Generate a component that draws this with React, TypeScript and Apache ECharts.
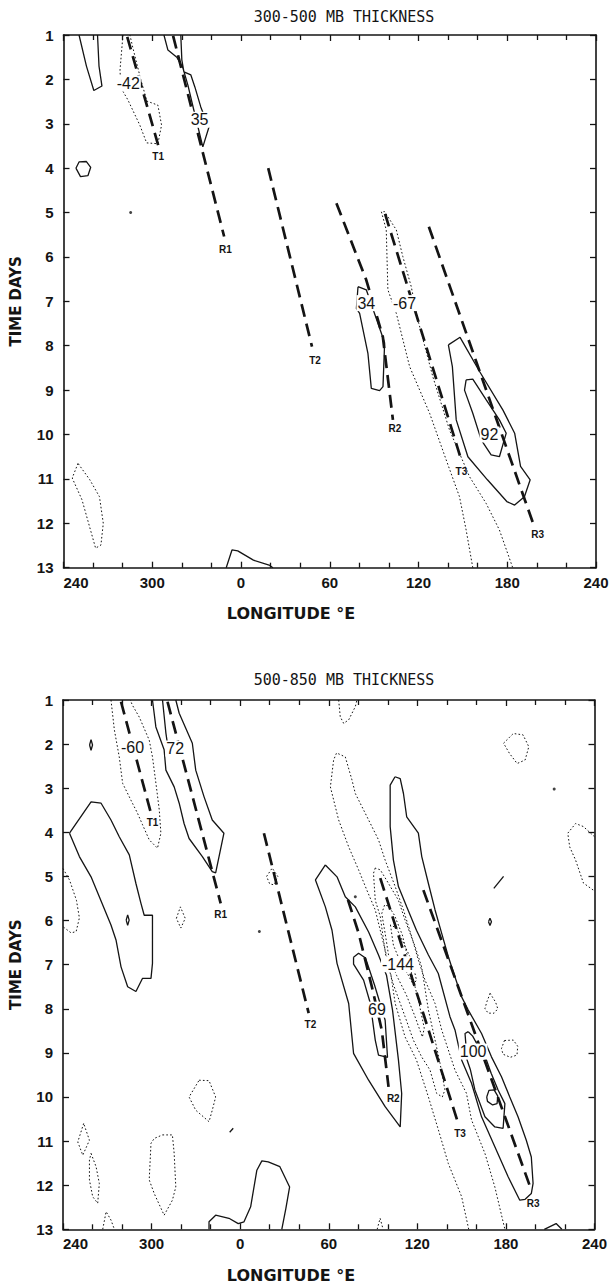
import React, { useEffect, useRef } from 'react';
import * as echarts from 'echarts';

type Pt = [number, number];
type Lbl = [string, number, number];

// Longitude is stored unwrapped: 240..600 (values > 360 are 0..240 E)
const LON_LABELS = ['240', '300', '0', '60', '120', '180', '240'];
const DAY_MIN = 1;
const DAY_MAX = 13;

// ---------------- 300-500 MB panel ----------------
const A_POS_1: Pt[] = [[250.5, 1], [255.5, 1.7], [260.5, 2.25], [266, 2.15], [264, 1.7], [263, 1]];
const A_POS_2: Pt[] = [[307.9, 1], [310.6, 1.34], [316.6, 1.5], [320.7, 1.74], [324.1, 2.13], [328.1, 2.69], [334.2, 3.52], [338.2, 3.09], [332.8, 2.62], [328.8, 2.17], [326.1, 1.9], [321.4, 1.83], [320, 1.56], [319.3, 1]];
const A_POS_3: Pt[] = [[248.4, 4.0], [250.5, 3.86], [255.5, 3.85], [258.4, 3.98], [256.5, 4.17], [251.5, 4.19], [248.4, 4.0]];
const A_POS_4: Pt[] = [[439.1, 6.67], [444.7, 6.74], [454.9, 7.72], [457.1, 7.94], [456, 8.92], [453.7, 9.01], [448.1, 8.96], [445.8, 8.17], [440.2, 7.27], [438, 7.16], [439.1, 6.67]];
const A_POS_5: Pt[] = [[500.2, 7.98], [508.1, 7.81], [521.3, 8.58], [537.1, 9.45], [545, 9.97], [549, 10.72], [555.5, 11.02], [551.6, 11.4], [545, 11.59], [539.7, 11.51], [526.6, 11.02], [513.4, 10.5], [505.5, 9.67], [502.9, 8.47], [500.2, 7.98]];
const A_POS_6: Pt[] = [[512.2, 8.77], [516.7, 8.75], [525.8, 9.22], [534.7, 9.67], [539.3, 9.97], [534.7, 10.5], [529.1, 10.46], [522.4, 10.12], [516.7, 9.52], [511.1, 9.0], [512.2, 8.77]];
const A_POS_7: Pt[] = [[350, 13], [353.9, 12.6], [357.8, 12.62], [368.4, 12.83], [379, 12.94], [381.6, 13]];

const A_NEG_1: Pt[] = [[280.2, 1], [278.2, 1.79], [278.8, 2.19], [283.5, 2.46], [291.6, 3.03], [296.2, 3.43], [303.8, 3.45], [306.3, 3.03], [303.8, 2.58], [296.4, 2.49], [292.3, 2.01], [286.9, 1.29], [284.9, 1]];
const A_NEG_2: Pt[] = [[516.7, 13], [512.2, 12.15], [507.7, 11.4], [498.7, 10.57], [487.5, 9.52], [474, 8.47], [465, 7.27], [459.3, 6.74], [458.2, 5.39], [454.9, 4.98], [457.1, 4.98], [465, 5.39], [469.4, 5.99], [475.1, 6.67], [479.6, 7.42], [489.7, 8.7], [501, 9.9], [514.5, 10.95], [525.7, 11.55], [534.7, 12.15], [543.7, 13]];
const A_NEG_3: Pt[] = [[249.8, 10.65], [245.9, 10.98], [252.5, 11.47], [261.7, 12.56], [265.3, 12.49], [266.9, 12.0], [264.3, 11.4], [257.8, 11.02], [249.8, 10.65]];

const A_T1: Pt[] = [[283.1, 1.04], [304, 3.48]];
const A_R1: Pt[] = [[314.1, 1.02], [348.6, 5.54]];
const A_T2: Pt[] = [[378.4, 4.0], [408, 8.02]];
const A_R2: Pt[] = [[424.5, 4.79], [444.7, 6.52], [455.9, 7.8], [462.7, 9.67]];
const A_T3: Pt[] = [[457.4, 5.03], [508.9, 10.57]];
const A_R3: Pt[] = [[487, 5.32], [558.2, 12.07]];

const A_VALUE_LABELS: Lbl[] = [['-42', 283.8, 2.09], ['35', 332, 2.91], ['34', 444.7, 7.04], ['-67', 470.6, 7.04], ['92', 528, 10.0]];
const A_TRACK_LABELS: Lbl[] = [['T1', 304, 3.74], ['R1', 349.4, 5.84], ['T2', 410, 8.33], ['R2', 464, 9.86], ['T3', 509, 10.83], ['R3', 560.5, 12.26]];
const A_DOTS: Pt[] = [[285.4, 5.0]];

// ---------------- 500-850 MB panel ----------------
const B_POS_1: Pt[] = [[300.6, 1], [302.9, 1.61], [308.5, 2.13], [309.7, 2.59], [315.3, 2.97], [318.7, 3.34], [322, 3.8], [325.4, 4.14], [334.4, 4.55], [341.1, 4.89], [343.4, 4.92], [349, 4.02], [341.1, 3.72], [335.5, 3.19], [329.9, 2.59], [327.6, 1.98], [318.7, 1.3], [316.4, 1]];
const B_POS_2: Pt[] = [[307.4, 1], [309.7, 1.75], [311, 2.05]];
const B_POS_3: Pt[] = [[244.4, 4.02], [259, 3.31], [265.8, 3.34], [272.5, 3.72], [278.1, 4.1], [284.9, 4.51], [289.4, 5.16], [292.8, 5.61], [295, 5.88], [300.6, 5.88], [300.6, 6.97], [299.6, 7.31], [293.9, 7.31], [289.4, 7.61], [283.8, 7.5], [279.3, 7.05], [275.9, 6.44], [272.5, 6.1], [264.6, 5.46], [259, 5.01], [251.1, 4.55], [244.4, 4.02]];
const B_POS_4: Pt[] = [[417.7, 4.74], [411, 5.08], [417.7, 5.69], [422.2, 6.22], [425.6, 6.97], [433.5, 7.88], [436.8, 9.01], [447, 9.62], [458.2, 10.22], [468.4, 10.68], [469.4, 9.92], [467.2, 9.16], [463.2, 8.03], [459.1, 7.24], [453.7, 6.78], [447, 6.26], [438, 5.69], [431.2, 5.46], [425.6, 5.01], [417.7, 4.74]];
const B_POS_5: Pt[] = [[436.8, 6.83], [440.2, 6.74], [444.9, 6.85], [451, 7.46], [458.2, 8.26], [459.8, 9.1], [453.7, 9.05], [451.5, 8.71], [448.1, 7.87], [443.6, 7.35], [436.8, 6.99], [436.8, 6.83]];
const B_POS_6: Pt[] = [[464.9, 2.74], [461.6, 2.93], [461.6, 3.87], [463.8, 4.63], [467.2, 5.23], [472.8, 5.69], [479.4, 6.22], [487.5, 6.78], [494.2, 7.2], [502.1, 8.18], [505.5, 8.48], [510, 9.16], [516.7, 9.69], [523.5, 10.45], [532.5, 11.13], [541.5, 11.81], [549.4, 12.34], [553, 12.32], [557.2, 12.19], [558.4, 11.96], [557.2, 11.36], [553.8, 10.98], [548.2, 10.45], [542.6, 10.0], [537, 9.54], [530.2, 9.09], [523.5, 8.56], [514.5, 8.03], [510, 7.73], [505.5, 7.28], [501, 6.82], [496.5, 6.29], [492, 5.76], [487.5, 5.16], [483, 4.55], [480.7, 4.02], [472.8, 3.65], [470.6, 3.12], [468.4, 2.78], [464.9, 2.74]];
const B_POS_7: Pt[] = [[514.5, 8.52], [517.5, 8.62], [522, 8.9], [526.8, 9.16], [530, 9.46], [534.7, 9.84], [539.3, 10.15], [538.1, 10.71], [532.5, 10.68], [525.8, 10.45], [519, 9.84], [516, 9.39], [513.7, 9.16], [512.3, 8.56], [514.5, 8.52]];
const B_POS_8: Pt[] = [[527, 10.0], [528.5, 9.85], [532, 9.84], [534.5, 9.98], [534, 10.15], [531, 10.18], [527.5, 10.1], [527, 10.0]];
const B_POS_9: Pt[] = [[338.9, 13], [338.9, 12.83], [343.4, 12.68], [352.4, 12.75], [358.7, 12.87], [362.6, 12.83], [367.1, 12.49], [371.3, 11.66], [374.7, 11.45], [379, 11.47], [386.9, 11.58], [393.5, 12.04], [391, 12.52], [388.2, 13]];
const B_POS_10: Pt[] = [[566, 13], [574, 12.87], [577.9, 13]];
const B_POS_11: Pt[] = [[258, 2.02], [259, 1.9], [260, 2.02], [259, 2.14], [258, 2.02]];
const B_POS_12: Pt[] = [[282.8, 5.99], [283.8, 5.87], [284.8, 5.99], [283.8, 6.11], [282.8, 5.99]];
const B_POS_13: Pt[] = [[531.8, 5.27], [538.4, 5.0]];
const B_POS_14: Pt[] = [[528.2, 6.03], [529.2, 5.95], [530.2, 6.03], [529.2, 6.11], [528.2, 6.03]];
const B_POS_15: Pt[] = [[352.9, 10.8], [355.3, 10.71]];

const B_NEG_1: Pt[] = [[272.5, 1], [274.8, 1.68], [278.1, 2.29], [280.4, 2.89], [286, 3.27], [290.5, 3.57], [293.9, 3.83], [298.4, 4.17], [304, 4.36], [306.3, 4.02], [305.2, 3.49], [303.1, 2.93], [300.6, 2.29], [298.4, 1.91], [291.7, 1.39], [286.9, 1.11], [285.6, 1]];
const B_NEG_2: Pt[] = [[240, 4.82], [244.4, 5.08], [249.1, 5.54], [251.1, 5.94], [248.9, 6.25], [245.5, 6.28], [240, 6.14]];
const B_NEG_3: Pt[] = [[316.8, 5.95], [319.5, 5.69], [322.8, 5.95], [319.8, 6.17], [316.8, 5.95]];
const B_NEG_4: Pt[] = [[377.9, 5.0], [381.7, 4.81], [385.5, 5.0], [383, 5.19], [380, 5.17], [377.9, 5.0]];
const B_NEG_5: Pt[] = [[426.7, 1], [427.8, 1.38], [430.1, 1.53], [433.5, 1.45], [438, 1.15], [439.1, 1]];
const B_NEG_6: Pt[] = [[538.4, 1.98], [545, 1.76], [551.6, 1.79], [555.5, 2.06], [553, 2.36], [547.6, 2.44], [542.4, 2.21], [538.4, 1.98]];
const B_NEG_7: Pt[] = [[600, 4.1], [592.5, 3.87], [587.2, 3.8], [581.9, 4.02], [583.2, 4.33], [587.2, 4.63], [592.5, 5.15], [600, 5.33]];
const B_NEG_8: Pt[] = [[514.8, 13], [510, 12.26], [501, 11.51], [494.3, 10.75], [487.5, 10.0], [479.4, 9.16], [471.7, 8.64], [465, 7.88], [461.6, 7.12], [458.2, 6.67], [451.5, 5.76], [445.8, 5.31], [440.2, 4.85], [433.5, 4.33], [426.7, 3.72], [421.1, 2.97], [423.3, 2.36], [425.3, 2.2], [431.2, 2.29], [435.7, 2.81], [438, 3.12], [447, 3.72], [453.7, 4.17], [458.2, 4.63], [465, 5.23], [470.6, 5.76], [476.2, 6.37], [480.7, 6.9], [485.2, 7.35], [492, 7.88], [496.5, 8.48], [505.5, 9.39], [513.3, 9.92], [516.7, 10.52], [525.8, 11.28], [532.5, 12.04], [539.3, 13]];
const B_NEG_9: Pt[] = [[451.5, 4.81], [450.3, 4.93], [451.5, 5.54], [454.9, 5.91], [457.1, 6.44], [459.1, 6.9], [463.9, 7.46], [471.7, 8.18], [477.3, 8.71], [482.9, 9.09], [488.6, 9.39], [493.1, 9.92], [496.9, 10.0], [498.7, 9.84], [495.4, 9.24], [492, 8.71], [487.5, 8.03], [482.9, 7.05], [478.5, 6.59], [471.7, 5.99], [467.2, 5.54], [460.5, 5.16], [454.9, 4.85], [451.5, 4.81]];
const B_NEG_10: Pt[] = [[457.8, 5.65], [455.9, 5.84], [458.2, 6.29], [460.5, 6.78], [465.9, 7.24], [472.6, 7.69], [478, 8.14], [483.4, 8.64], [484.7, 8.44], [480.7, 7.8], [477.3, 7.35], [473.9, 6.9], [469.9, 6.33], [464.5, 5.88], [460.5, 5.67], [457.8, 5.65]];
const B_NEG_11: Pt[] = [[461.8, 6.1], [463.8, 6.56], [468.5, 6.94], [473.9, 7.24], [477.3, 7.46], [479.4, 7.35], [476.7, 6.94], [471.3, 6.56], [465.9, 6.17], [461.8, 6.1]];
const B_NEG_12: Pt[] = [[529.3, 7.65], [527, 7.85], [525.8, 8.0], [528, 8.1], [532, 8.1], [534.5, 8.0], [533, 7.85], [529.3, 7.65]];
const B_NEG_13: Pt[] = [[539, 8.72], [545, 8.71], [548, 8.85], [547.5, 9.05], [543, 9.1], [538, 9.03], [537, 8.9], [539, 8.72]];
const B_NEG_14: Pt[] = [[254, 10.6], [250, 11.02], [253.4, 11.32], [257.9, 10.98], [254, 10.6]];
const B_NEG_15: Pt[] = [[259, 11.28], [262.4, 11.58], [264.6, 11.96], [263.5, 12.41], [260.1, 12.26], [257.9, 11.88], [257.9, 11.43], [259, 11.28]];
const B_NEG_16: Pt[] = [[266.9, 13], [269.2, 12.6], [272.5, 12.79], [274.8, 13]];
const B_NEG_17: Pt[] = [[307.4, 10.86], [314.1, 10.86], [315.3, 11.28], [316.4, 12.04], [314.1, 12.34], [308.5, 12.68], [301.8, 12.19], [298.4, 11.88], [299.6, 11.05], [301.8, 10.94], [307.4, 10.86]];
const B_NEG_18: Pt[] = [[332.2, 9.62], [338.9, 9.63], [343.4, 10.0], [341.1, 10.3], [338.9, 10.56], [329.9, 10.3], [325.4, 10.0], [332.2, 9.62]];
const B_NEG_19: Pt[] = [[452.8, 13], [454.8, 12.75], [456.8, 13]];

const B_T1: Pt[] = [[279.3, 1.04], [299.6, 3.57]];
const B_R1: Pt[] = [[310.8, 1.04], [346.8, 5.61]];
const B_T2: Pt[] = [[376.1, 4.02], [406.4, 8.1]];
const B_R2: Pt[] = [[433, 5.53], [440.2, 6.28], [449.2, 7.5], [455.9, 8.48], [460.5, 9.77]];
const B_T3: Pt[] = [[454.9, 5.04], [507.7, 10.6]];
const B_R3: Pt[] = [[484.1, 5.31], [557.2, 12.11]];

const B_VALUE_LABELS: Lbl[] = [['-60', 287.1, 2.07], ['72', 316, 2.1], ['-144', 466.9, 6.99], ['69', 452.6, 8.02], ['100', 517.8, 8.97]];
const B_TRACK_LABELS: Lbl[] = [['T1', 300.6, 3.78], ['R1', 346.8, 5.86], ['T2', 407.6, 8.35], ['R2', 463.7, 10.03], ['T3', 508.9, 10.83], ['R3', 558.4, 12.41]];
const B_DOTS: Pt[] = [[373, 6.25], [572.7, 3.02], [438, 5.46]];

const PANELS = [
  {
    title: '300-500 MB THICKNESS',
    pos: [A_POS_1, A_POS_2, A_POS_3, A_POS_4, A_POS_5, A_POS_6, A_POS_7],
    neg: [A_NEG_1, A_NEG_2, A_NEG_3],
    tracks: [A_T1, A_R1, A_T2, A_R2, A_T3, A_R3],
    values: A_VALUE_LABELS,
    trackLabels: A_TRACK_LABELS,
    dots: A_DOTS,
  },
  {
    title: '500-850 MB THICKNESS',
    pos: [B_POS_1, B_POS_2, B_POS_3, B_POS_4, B_POS_5, B_POS_6, B_POS_7, B_POS_8, B_POS_9, B_POS_10, B_POS_11, B_POS_12, B_POS_13, B_POS_14, B_POS_15],
    neg: [B_NEG_1, B_NEG_2, B_NEG_3, B_NEG_4, B_NEG_5, B_NEG_6, B_NEG_7, B_NEG_8, B_NEG_9, B_NEG_10, B_NEG_11, B_NEG_12, B_NEG_13, B_NEG_14, B_NEG_15, B_NEG_16, B_NEG_17, B_NEG_18, B_NEG_19],
    tracks: [B_T1, B_R1, B_T2, B_R2, B_T3, B_R3],
    values: B_VALUE_LABELS,
    trackLabels: B_TRACK_LABELS,
    dots: B_DOTS,
  },
];

const GRIDS = [
  { left: 63.5, top: 35, width: 532.5, height: 532.7 },
  { left: 63, top: 700, width: 531.5, height: 529.3 },
];

const INK = '#141414';

function buildOption() {
  const xAxis: any[] = [];
  const yAxis: any[] = [];
  const series: any[] = [];
  const graphic: any[] = [];

  GRIDS.forEach((g, gi) => {
    const tick = { show: true, inside: true, length: 6, lineStyle: { color: INK, width: 1.3 } };
    const line = { show: true, onZero: false, lineStyle: { color: INK, width: 1.6 } };
    ['bottom', 'top'].forEach((p) => {
      xAxis.push({
        type: 'value', gridIndex: gi, position: p, min: 240, max: 600, interval: 60,
        axisLine: line, axisTick: tick,
        minorTick: { show: true, splitNumber: 3, length: 5, lineStyle: { color: INK, width: 1.3 } },
        splitLine: { show: false }, minorSplitLine: { show: false },
        axisLabel: p === 'bottom' ? {
          show: true, margin: 7, color: INK, fontSize: 15, fontWeight: 'bold', fontFamily: 'Liberation Sans',
          alignMinLabel: 'left',
          formatter: (v: number) => LON_LABELS[Math.round((v - 240) / 60)] ?? '',
        } : { show: false },
      });
    });
    ['left', 'right'].forEach((p) => {
      yAxis.push({
        type: 'value', gridIndex: gi, position: p, inverse: true, min: DAY_MIN, max: DAY_MAX, interval: 1,
        axisLine: line, axisTick: tick, splitLine: { show: false },
        axisLabel: p === 'left' ? {
          show: true, margin: 10, color: INK, fontSize: 15, fontWeight: 'bold', fontFamily: 'Liberation Sans',
        } : { show: false },
      });
    });
  });

  PANELS.forEach((panel, pi) => {
    const ax = { xAxisIndex: pi * 2, yAxisIndex: pi * 2 };
    const mk = (data: Pt[], style: any, z: number) => ({
      type: 'line', ...ax, data, symbol: 'none', showSymbol: false, silent: true, z,
      lineStyle: { color: INK, ...style }, clip: true,
    });
    panel.neg.forEach((d) => series.push(mk(d, { width: 1, type: [1.6, 2.2] }, 2)));
    panel.pos.forEach((d) => series.push(mk(d, { width: 1.3 }, 2)));
    panel.tracks.forEach((d) => series.push(mk(d, { width: 2.7, type: [13, 7] }, 3)));
    series.push({
      type: 'scatter', ...ax, symbolSize: 3, silent: true, z: 4,
      itemStyle: { color: INK }, data: panel.dots,
    });
    series.push({
      type: 'scatter', ...ax, symbolSize: 2, silent: true, z: 5,
      itemStyle: { color: 'rgba(255,255,255,0)' },
      data: panel.values.map(([t, x, y]) => ({ name: t, value: [x, y] })),
      label: {
        show: true, position: 'inside', formatter: '{b}', color: INK, opacity: 1,
        fontSize: 16, fontFamily: 'Liberation Sans', backgroundColor: '#fff', padding: [0, 1],
      },
      labelLayout: { hideOverlap: false },
    });
    series.push({
      type: 'scatter', ...ax, symbolSize: 2, silent: true, z: 5,
      itemStyle: { color: 'rgba(255,255,255,0)' },
      data: panel.trackLabels.map(([t, x, y]) => ({ name: t, value: [x, y] })),
      label: {
        show: true, position: 'inside', formatter: '{b}', color: INK, opacity: 1,
        fontSize: 10, fontWeight: 'bold', fontFamily: 'Liberation Sans',
      },
      labelLayout: { hideOverlap: false },
    });

    const g = GRIDS[pi];
    const titleY = pi === 0 ? 17 : 680;
    const lonY = g.top + g.height + 46;
    const daysY = g.top + g.height / 2;
    const txt = (text: string, x: number, y: number, font: any, rotation = 0) => ({
      type: 'text', x, y, rotation, silent: true,
      style: {
        text, fill: INK, ...font,
        align: 'center', verticalAlign: 'middle', textAlign: 'center', textVerticalAlign: 'middle',
      },
    });
    graphic.push(txt(panel.title, 344, titleY, { fontSize: 15, fontFamily: 'DejaVu Sans Mono' }));
    graphic.push(txt('LONGITUDE °E', 291, lonY, { fontSize: 16, fontWeight: 'bold', fontFamily: 'DejaVu Sans' }));
    graphic.push(txt('TIME DAYS', 16, daysY, { fontSize: 15, fontWeight: 'bold', fontFamily: 'DejaVu Sans' }, Math.PI / 2));
  });

  return {
    animation: false,
    backgroundColor: '#ffffff',
    grid: GRIDS.map((g) => ({ ...g, containLabel: false })),
    xAxis, yAxis, series, graphic,
  };
}

export default function App() {
  const ref = useRef<HTMLDivElement>(null);
  useEffect(() => {
    if (!ref.current) return;
    const chart = echarts.init(ref.current, null, { renderer: 'svg' });
    chart.setOption(buildOption() as any);
    return () => chart.dispose();
  }, []);
  return (
    <div
      ref={ref}
      style={{ position: 'absolute', left: 0, top: 0, width: 612, height: 1285, background: '#fff' }}
    />
  );
}
